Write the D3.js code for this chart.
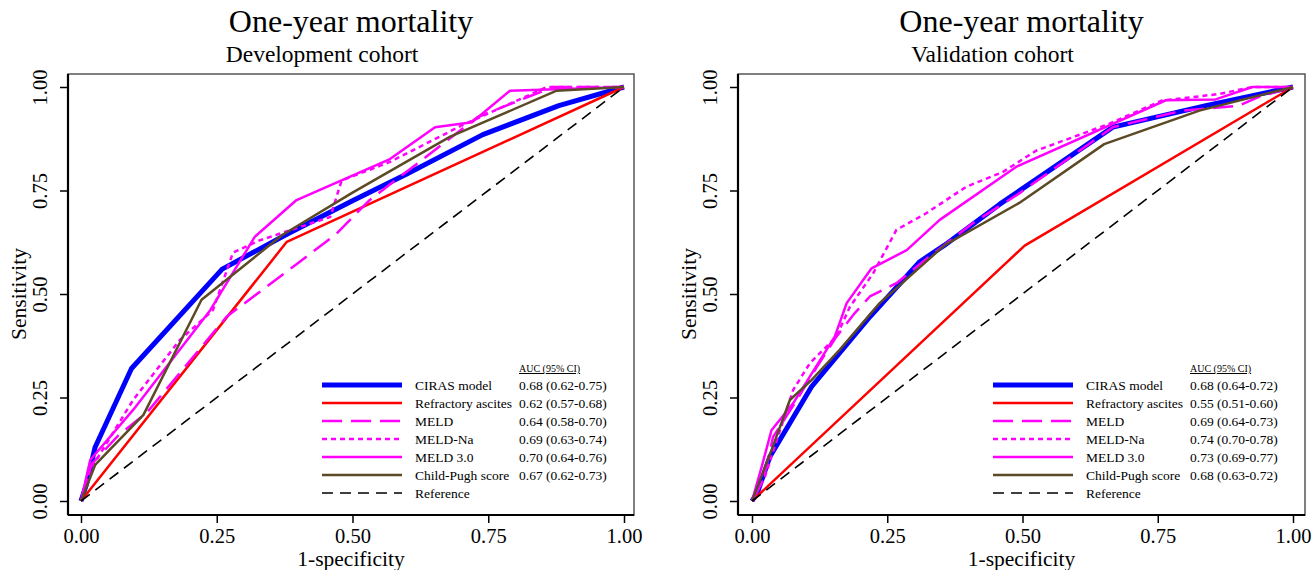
<html>
<head>
<meta charset="utf-8">
<script src="https://cdn.jsdelivr.net/npm/d3@7"></script>
<style>
  body { margin: 0; background: #fff; }
  svg text { font-family: "Liberation Serif", "Times New Roman", serif; fill: #000; }
</style>
</head>
<body>
<div id="chart"></div>
<script>
// labels
var seriesNames = ["CIRAS model", "Refractory ascites", "MELD", "MELD-Na", "MELD 3.0", "Child-Pugh score"];
var devAuc = ["0.68 (0.62-0.75)", "0.62 (0.57-0.68)", "0.64 (0.58-0.70)", "0.69 (0.63-0.74)", "0.70 (0.64-0.76)", "0.67 (0.62-0.73)"];
var valAuc = ["0.68 (0.64-0.72)", "0.55 (0.51-0.60)", "0.69 (0.64-0.73)", "0.74 (0.70-0.78)", "0.73 (0.69-0.77)", "0.68 (0.63-0.72)"];
var tickVals = [0, 0.25, 0.5, 0.75, 1];

// development cohort, [1-specificity, sensitivity]
var devCiras = [[0,0],[0.01,0.04],[0.026,0.13],[0.093,0.32],[0.26,0.56],[0.38,0.645],[0.5,0.725],[0.6,0.79],[0.74,0.885],[0.88,0.955],[1,1]];
var devRefractory = [[0,0],[0.379,0.626],[1,1]];
var devMeld = [[0,0],[0.02,0.09],[0.07,0.16],[0.121,0.213],[0.268,0.445],[0.4,0.575],[0.47,0.645],[0.53,0.725],[0.73,0.927],[0.85,0.99],[0.87,1],[1,1]];
var devMeldNa = [[0,0],[0.017,0.075],[0.096,0.244],[0.182,0.389],[0.243,0.461],[0.28,0.6],[0.33,0.63],[0.459,0.686],[0.48,0.774],[0.569,0.819],[0.701,0.907],[0.858,1],[1,1]];
var devMeld3 = [[0,0],[0.017,0.099],[0.096,0.22],[0.238,0.461],[0.32,0.638],[0.397,0.727],[0.569,0.826],[0.652,0.903],[0.72,0.915],[0.79,0.991],[1,1]];
var devChild = [[0,0],[0.026,0.087],[0.115,0.208],[0.222,0.486],[0.37,0.642],[0.5,0.745],[0.68,0.88],[0.876,0.991],[1,1]];

// validation cohort
var valCiras = [[0,0],[0.01,0.02],[0.033,0.107],[0.11,0.276],[0.218,0.445],[0.31,0.578],[0.356,0.618],[0.458,0.717],[0.667,0.903],[0.839,0.955],[1,1]];
var valRefractory = [[0,0],[0.504,0.617],[1,1]];
var valMeld = [[0,0],[0.021,0.05],[0.039,0.155],[0.079,0.236],[0.12,0.324],[0.156,0.397],[0.19,0.454],[0.218,0.494],[0.267,0.526],[0.313,0.575],[0.408,0.671],[0.494,0.743],[0.667,0.903],[0.795,0.943],[0.9,0.955],[0.937,0.976],[1,1]];
var valMeldNa = [[0,0],[0.024,0.059],[0.076,0.268],[0.107,0.333],[0.156,0.397],[0.181,0.469],[0.224,0.55],[0.267,0.655],[0.322,0.695],[0.396,0.759],[0.464,0.795],[0.525,0.846],[0.66,0.911],[0.757,0.967],[0.863,0.983],[0.925,1],[1,1]];
var valMeld3 = [[0,0],[0.018,0.083],[0.036,0.171],[0.076,0.236],[0.153,0.397],[0.175,0.478],[0.221,0.562],[0.286,0.606],[0.347,0.679],[0.488,0.807],[0.765,0.968],[0.857,0.97],[0.925,1],[1,1]];
var valChild = [[0,0],[0.036,0.123],[0.07,0.244],[0.11,0.292],[0.162,0.365],[0.236,0.478],[0.356,0.618],[0.494,0.72],[0.651,0.862],[0.827,0.943],[1,1]];

var refLine = [[0,0],[1,1]];

var styles = [
  {color: "#0000ff", width: 5, dash: null},
  {color: "#ff0000", width: 2.5, dash: null},
  {color: "#ff00ff", width: 2.5, dash: "20,9"},
  {color: "#ff00ff", width: 2.5, dash: "5,4"},
  {color: "#ff00ff", width: 2.5, dash: null},
  {color: "#5c4a26", width: 2.5, dash: null}
];
var refStyle = {color: "#000", width: 1.6, dash: "11,7"};

var svg = d3.select("#chart").append("svg")
    .attr("width", 1312)
    .attr("height", 570);

function drawPanel(p) {
  var x = d3.scaleLinear().domain([0, 1]).range([p.x0, p.x1]);
  var y = d3.scaleLinear().domain([0, 1]).range([501, 87]);
  var g = svg.append("g");
  var mid = (p.left + p.right) / 2;

  // titles
  g.append("text").attr("x", mid).attr("y", 32)
    .attr("text-anchor", "middle").style("font-size", "32px").text("One-year mortality");
  g.append("text").attr("x", mid - 29).attr("y", 62)
    .attr("text-anchor", "middle").style("font-size", "23.5px").text(p.sub);

  // box
  g.append("rect").attr("x", p.left).attr("y", 74)
    .attr("width", p.right - p.left).attr("height", 515 - 74)
    .attr("fill", "none").attr("stroke", "#555").attr("stroke-width", 1.5);

  // axes
  var ya = g.append("g").attr("transform", "translate(" + p.left + ",0)")
    .call(d3.axisLeft(y).tickValues(tickVals).tickFormat(d3.format(".2f")).tickSize(8).tickSizeOuter(0));
  ya.select(".domain").remove();
  ya.selectAll("line").attr("stroke", "#000").attr("stroke-width", 1.5);
  ya.selectAll("text")
    .attr("transform", "rotate(-90)")
    .attr("text-anchor", "middle")
    .attr("x", 0).attr("y", -28).attr("dy", "0.35em")
    .style("font-size", "20.5px").style("font-family", "Liberation Serif, serif");

  var xa = g.append("g").attr("transform", "translate(0,515)")
    .call(d3.axisBottom(x).tickValues(tickVals).tickFormat(d3.format(".2f")).tickSize(8).tickSizeOuter(0));
  xa.select(".domain").remove();
  xa.selectAll("line").attr("stroke", "#000").attr("stroke-width", 1.5);
  xa.selectAll("text").attr("y", 13).attr("dy", "0.71em")
    .style("font-size", "20.5px").style("font-family", "Liberation Serif, serif");

  g.append("line").attr("x1", p.left).attr("x2", p.left).attr("y1", 74).attr("y2", 515)
    .attr("stroke", "#000").attr("stroke-width", 2.2);
  g.append("line").attr("x1", p.left).attr("x2", p.right).attr("y1", 515).attr("y2", 515)
    .attr("stroke", "#000").attr("stroke-width", 2.2);

  g.append("text").attr("x", mid).attr("y", 566)
    .attr("text-anchor", "middle").style("font-size", "21.5px").text("1-specificity");
  g.append("text").attr("transform", "translate(" + (p.left - 42) + ",294) rotate(-90)")
    .attr("text-anchor", "middle").style("font-size", "21.5px").text("Sensitivity");

  // curves
  var line = d3.line().x(function(d) { return x(d[0]); }).y(function(d) { return y(d[1]); });
  p.curves.forEach(function(c, i) {
    g.append("path").datum(c).attr("d", line)
      .attr("fill", "none").attr("stroke", styles[i].color)
      .attr("stroke-width", styles[i].width)
      .attr("stroke-dasharray", styles[i].dash)
      .attr("stroke-linejoin", "round");
  });
  g.append("path").datum(refLine).attr("d", line)
    .attr("fill", "none").attr("stroke", refStyle.color)
    .attr("stroke-width", refStyle.width).attr("stroke-dasharray", refStyle.dash);

  // legend
  var lx = p.legX;
  g.append("text").attr("x", lx + 197).attr("y", 372)
    .style("font-size", "10px").style("text-decoration", "underline").text("AUC  (95% CI)");
  var allStyles = styles.concat([refStyle]);
  var names = seriesNames.concat(["Reference"]);
  names.forEach(function(n, i) {
    var ry = 385 + i * 18;
    var s = allStyles[i];
    g.append("line").attr("x1", lx).attr("x2", lx + 80).attr("y1", ry).attr("y2", ry)
      .attr("stroke", s.color).attr("stroke-width", s.width).attr("stroke-dasharray", s.dash);
    g.append("text").attr("x", lx + 93).attr("y", ry + 5).style("font-size", "13.5px").text(n);
    if (i < p.auc.length) {
      g.append("text").attr("x", lx + 197).attr("y", ry + 5).style("font-size", "13.5px").text(p.auc[i]);
    }
  });
}

drawPanel({left: 68, right: 634, x0: 81, x1: 624, legX: 322, sub: "Development cohort", auc: devAuc,
  curves: [devCiras, devRefractory, devMeld, devMeldNa, devMeld3, devChild]});
drawPanel({left: 738, right: 1305, x0: 752, x1: 1293, legX: 993, sub: "Validation cohort", auc: valAuc,
  curves: [valCiras, valRefractory, valMeld, valMeldNa, valMeld3, valChild]});
</script>
</body>
</html>
